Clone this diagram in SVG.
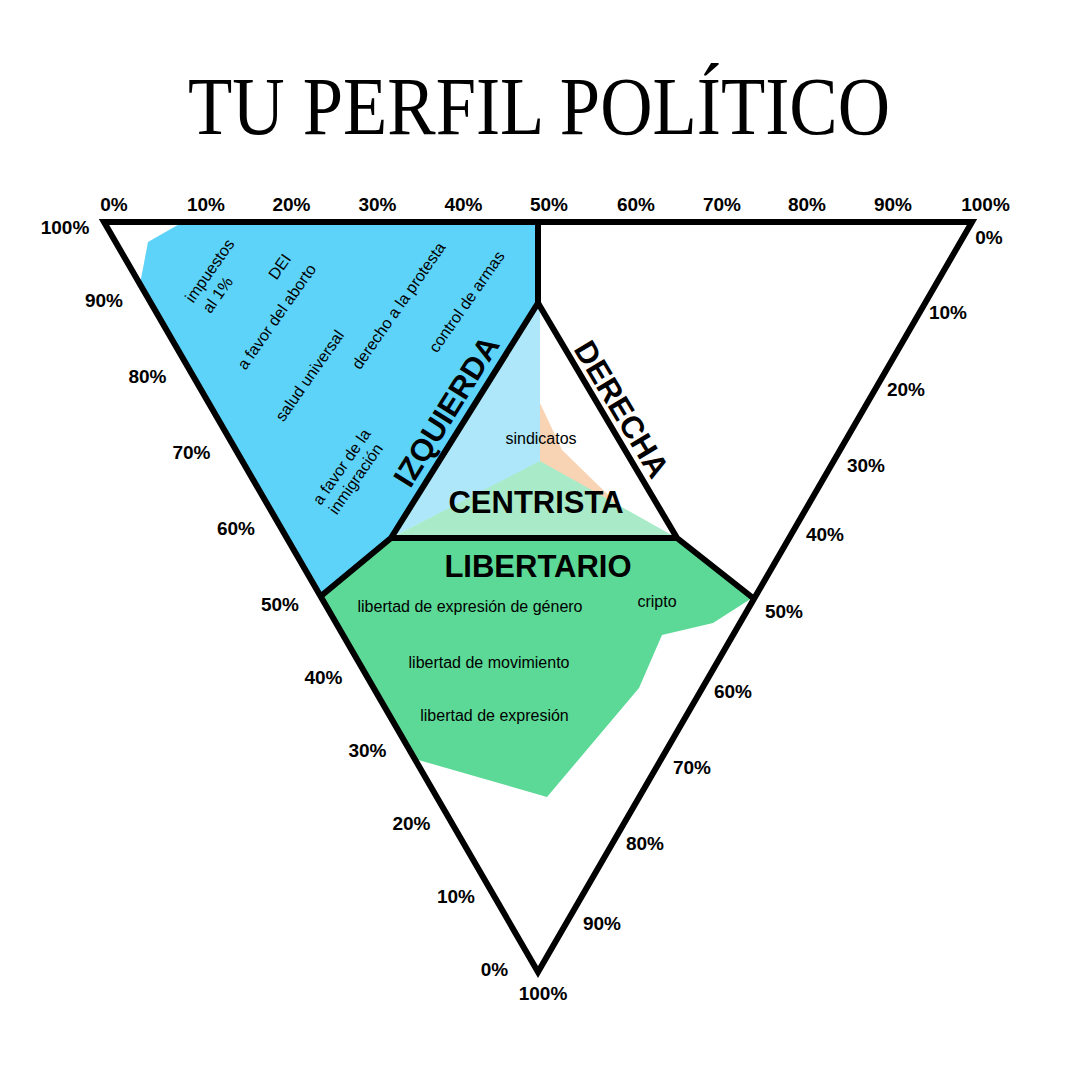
<svg xmlns="http://www.w3.org/2000/svg" width="1080" height="1080" viewBox="0 0 1080 1080">
<style>
.ax{font-family:"Liberation Sans",Arial,sans-serif;font-weight:bold;font-size:19px;fill:#000;text-anchor:middle}
.sm{font-family:"Liberation Sans",Arial,sans-serif;font-size:16px;fill:#000;text-anchor:middle}
.big{font-family:"Liberation Sans",Arial,sans-serif;font-weight:bold;font-size:31px;fill:#000;text-anchor:middle}
.edge{fill:none;stroke:#000;stroke-width:6;stroke-linejoin:miter}
</style>
<rect width="1080" height="1080" fill="#fff"/>
<text x="539" y="134" font-family="'Liberation Serif','Times New Roman',serif" font-size="82" text-anchor="middle" textLength="702" lengthAdjust="spacingAndGlyphs">TU PERFIL POLÍTICO</text>

<g id="regions">
<polygon id="izquierda-fill" fill="#5DD3F9" points="183,222 538,222 538,303 391,538 320,596 140,284 148,242"/>
<polygon id="centro-blue" fill="#AEE7FA" points="538,303 540,303 540,462 391,538"/>
<polygon id="centro-orange" fill="#F9D4B4" points="540,403 562,450 632,518 540,462"/>
<polygon id="centro-green" fill="#A9EBC9" points="540,461 391,538 677,538"/>
<polygon id="libertario-fill" fill="#5CD996" points="391,538 677,538 752,598 713,623 662,635 639,688 547,797 415,759 320,596"/>
</g>

<g id="connectors">
<path class="edge" d="M104,222 L972,222 L538,972 Z"/>
<path class="edge" d="M538,222 L538,303 M391,538 L538,303 L677,538 Z M391,538 L321,596 M677,538 L753,598"/>
</g>

<g id="top-axis">
<text class="ax" x="114" y="211">0%</text>
<text class="ax" x="206" y="211">10%</text>
<text class="ax" x="291.5" y="211">20%</text>
<text class="ax" x="377.5" y="211">30%</text>
<text class="ax" x="463.5" y="211">40%</text>
<text class="ax" x="549" y="211">50%</text>
<text class="ax" x="636" y="211">60%</text>
<text class="ax" x="722" y="211">70%</text>
<text class="ax" x="807" y="211">80%</text>
<text class="ax" x="893" y="211">90%</text>
<text class="ax" x="985.5" y="211">100%</text>
</g>
<g id="left-axis">
<text class="ax" x="65" y="234">100%</text>
<text class="ax" x="104" y="307">90%</text>
<text class="ax" x="147.5" y="383">80%</text>
<text class="ax" x="191.5" y="459">70%</text>
<text class="ax" x="236" y="535">60%</text>
<text class="ax" x="280" y="611">50%</text>
<text class="ax" x="323.5" y="684">40%</text>
<text class="ax" x="367.5" y="757">30%</text>
<text class="ax" x="411.5" y="830">20%</text>
<text class="ax" x="456" y="903">10%</text>
<text class="ax" x="494.5" y="976">0%</text>
</g>
<g id="right-axis">
<text class="ax" x="989" y="244">0%</text>
<text class="ax" x="948" y="319">10%</text>
<text class="ax" x="906" y="396">20%</text>
<text class="ax" x="866" y="472">30%</text>
<text class="ax" x="825" y="541">40%</text>
<text class="ax" x="784" y="618">50%</text>
<text class="ax" x="733" y="698">60%</text>
<text class="ax" x="692" y="774">70%</text>
<text class="ax" x="645" y="850">80%</text>
<text class="ax" x="602" y="930">90%</text>
<text class="ax" x="543" y="1000">100%</text>
</g>

<g id="izquierda">
<text class="big" transform="translate(446,411) rotate(-58)" y="11">IZQUIERDA</text>
<text class="sm" transform="translate(210,271) rotate(-55)" y="5">impuestos</text>
<text class="sm" transform="translate(218,295) rotate(-55)" y="5">al 1%</text>
<text class="sm" transform="translate(280,267) rotate(-55)" y="5">DEI</text>
<text class="sm" transform="translate(277,317) rotate(-55)" y="5">a favor del aborto</text>
<text class="sm" transform="translate(310,376) rotate(-55)" y="5">salud universal</text>
<text class="sm" transform="translate(399,306) rotate(-55)" y="5">derecho a la protesta</text>
<text class="sm" transform="translate(467,302) rotate(-55)" y="5">control de armas</text>
<text class="sm" transform="translate(342,467) rotate(-55)" y="5">a favor de la</text>
<text class="sm" transform="translate(356,479) rotate(-55)" y="5">inmigración</text>
</g>
<g id="derecha">
<text class="big" transform="translate(622,409) rotate(59)" y="11">DERECHA</text>
</g>
<g id="centrista">
<text class="sm" x="541" y="444">sindicatos</text>
<text class="big" x="536" y="513">CENTRISTA</text>
</g>
<g id="libertario">
<text class="big" x="538" y="577">LIBERTARIO</text>
<text class="sm" x="470" y="612">libertad de expresión de género</text>
<text class="sm" x="657" y="607">cripto</text>
<text class="sm" x="489" y="668">libertad de movimiento</text>
<text class="sm" x="494.5" y="721">libertad de expresión</text>
</g>
</svg>
